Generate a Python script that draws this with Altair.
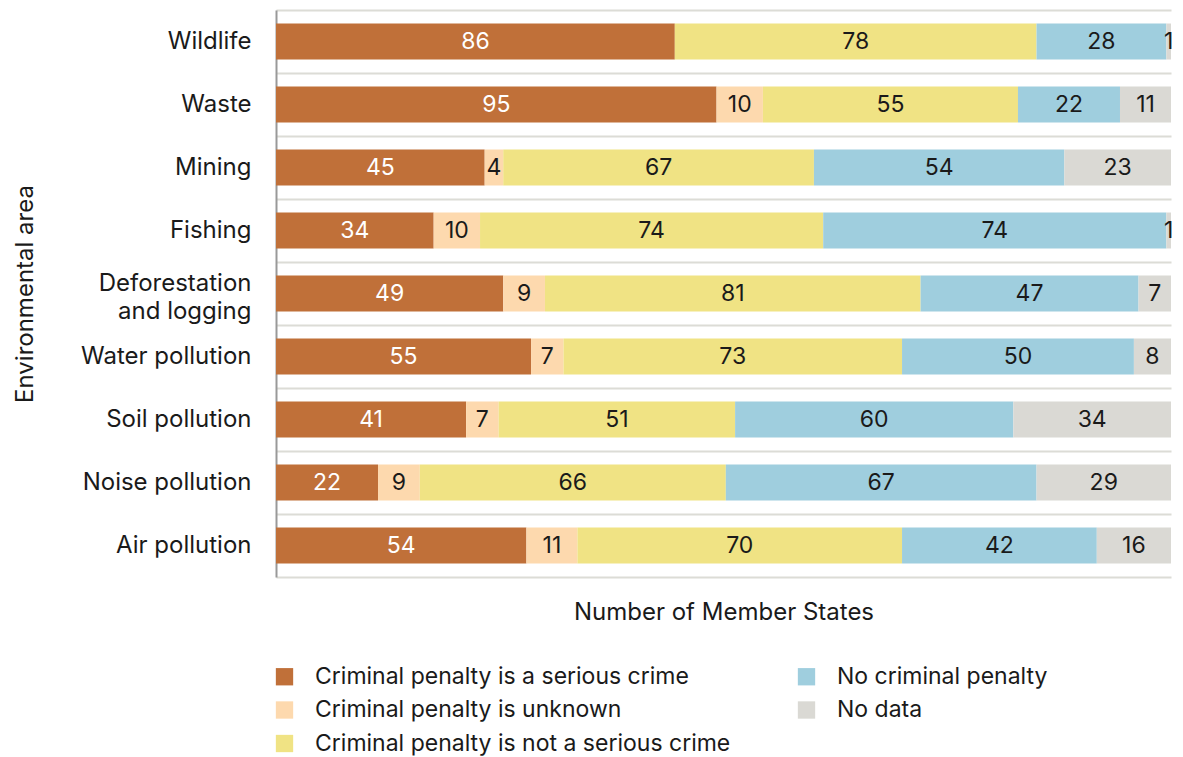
import altair as alt
import pandas as pd

areas = ["Wildlife", "Waste", "Mining", "Fishing", "Deforestation and logging",
         "Water pollution", "Soil pollution", "Noise pollution", "Air pollution"]
serious = [86, 95, 45, 34, 49, 55, 41, 22, 54]
unknown = [0, 10, 4, 10, 9, 7, 7, 9, 11]
not_serious = [78, 55, 67, 74, 81, 73, 51, 66, 70]
no_penalty = [28, 22, 54, 74, 47, 50, 60, 67, 42]
no_data = [1, 11, 23, 1, 7, 8, 34, 29, 16]

categories = ["Criminal penalty is a serious crime", "Criminal penalty is unknown",
              "Criminal penalty is not a serious crime", "No criminal penalty", "No data"]
colors = ["#C07039", "#FDD9AE", "#F0E384", "#9FCEDE", "#DAD9D4"]

series = [serious, unknown, not_serious, no_penalty, no_data]
rows = []
for ci, (cat, vals) in enumerate(zip(categories, series)):
    for a, v in zip(areas, vals):
        rows.append({"area": a, "category": cat, "value": v, "order": ci})
df = pd.DataFrame(rows)

FONT = "Inter"
TXT = "#1a1a1a"
FS = 24

base = alt.Chart(df).transform_stack(
    stack="value", as_=["x0", "x1"], groupby=["area"], sort=[alt.SortField("order")]
)

ysc = alt.Scale(paddingInner=0, paddingOuter=0)
xsc = alt.Scale(domain=[0, 193], nice=False, zero=True)

bars = base.mark_bar(height={"band": 0.571}).encode(
    x=alt.X("x0:Q", scale=xsc,
            axis=alt.Axis(title="Number of Member States", labels=False, ticks=False, grid=False,
                          domainColor="#DCDCD6", domainWidth=2, titlePadding=23,
                          titleFontSize=FS, titleFontWeight="normal", titleFont=FONT, titleColor=TXT)),
    x2="x1:Q",
    y=alt.Y("area:N", sort=areas, scale=ysc,
            axis=alt.Axis(title="Environmental area", ticks=False, grid=True, bandPosition=0,
                          gridColor="#DCDCD6", gridWidth=2, domainColor="#999999", domainWidth=2,
                          labelFontSize=FS, labelFont=FONT, labelColor=TXT, labelPadding=25,
                          labelLineHeight=28,
                          labelOffset={"condition": {"test": "datum.value == 'Deforestation and logging'", "value": -10}, "value": 0},
                          labelExpr="datum.label == 'Deforestation and logging' ? ['Deforestation', 'and logging'] : datum.label",
                          titleFontSize=FS, titleFontWeight="normal", titleFont=FONT, titleColor=TXT,
                          titlePadding=43)),
    color=alt.Color("category:N",
                    scale=alt.Scale(domain=categories, range=colors),
                    legend=alt.Legend(title=None, orient="none", legendX=-3, legendY=655, columns=2,
                                      labelFontSize=23, labelFont=FONT, labelColor=TXT,
                                      symbolType="square", symbolSize=300, symbolStrokeWidth=0,
                                      rowPadding=9.5, columnPadding=64, labelOffset=19,
                                      labelLimit=600)),
)

text = base.transform_filter("datum.value > 0").transform_calculate(
    mid="(datum.x0 + datum.x1) / 2"
).mark_text(fontSize=23, font=FONT).encode(
    x=alt.X("mid:Q", scale=xsc),
    y=alt.Y("area:N", sort=areas, scale=ysc),
    text="value:Q",
    color=alt.when("datum.order == 0").then(alt.value("white")).otherwise(alt.value(TXT)),
)

chart = alt.layer(bars, text).properties(
    width=895, height=567,
    autosize=alt.AutoSizeParams(type="none"),
    padding={"left": 268, "top": 2, "right": 4, "bottom": 186},
).configure_view(stroke=None)

chart.save("out.html", embed_options={"renderer": "svg", "actions": False})
